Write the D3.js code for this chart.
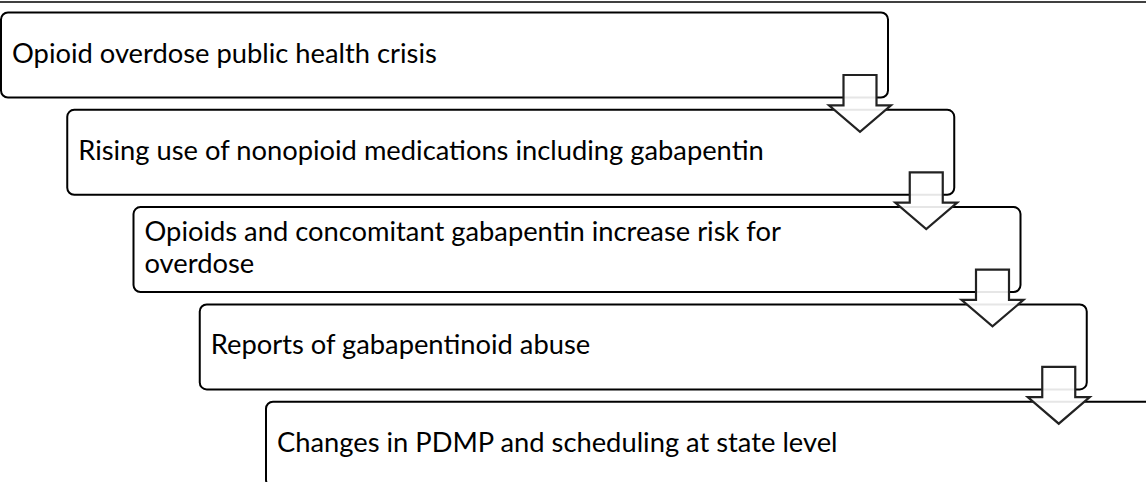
<!DOCTYPE html>
<html>
<head>
<meta charset="utf-8">
<script src="https://cdn.jsdelivr.net/npm/d3@7"></script>
<style>
  body { margin: 0; background: #fff; }
  svg { display: block; }
</style>
</head>
<body>
<svg id="chart"></svg>
<script>
// steps of the flow, top to bottom (lines split as in the figure)
var steps = [
  ["Opioid overdose public health crisis"],
  ["Rising use of nonopioid medications including gabapentin"],
  ["Opioids and concomitant gabapentin increase risk for", "overdose"],
  ["Reports of gabapentinoid abuse"],
  ["Changes in PDMP and scheduling at state level"]
];
var stepIndex = d3.range(steps.length);

var screen = {width: 1146, height: 482};
var boxW = 887, boxH = 85;

var svg = d3.select("#chart")
  .attr("width", screen.width)
  .attr("height", screen.height);

var xScale = d3.scaleLinear().domain([0, steps.length - 1]).range([1, 266]);
var yScale = d3.scaleLinear().domain([0, steps.length - 1]).range([12.5, 401.7]);

// rule along the top
svg.append("line")
  .attr("x1", 0).attr("x2", screen.width)
  .attr("y1", 2).attr("y2", 2)
  .attr("stroke", "#000").attr("stroke-width", 1.5);

// boxes
svg.selectAll("rect.step")
  .data(stepIndex)
  .enter()
  .append("rect")
  .attr("class", "step")
  .attr("x", function(i) { return xScale(i); })
  .attr("y", function(i) { return yScale(i); })
  .attr("width", boxW)
  .attr("height", boxH)
  .attr("rx", 7).attr("ry", 7)
  .attr("fill", "#fff")
  .attr("stroke", "#000")
  .attr("stroke-width", 2);

// text, font size fitted so first line is ~425px wide
var fontFamily = "Lato, 'Open Sans', sans-serif";
var probe = svg.append("text")
  .attr("font-family", fontFamily)
  .attr("font-size", 100)
  .text(steps[0][0]);
var fontSize = 100 * 425 / probe.node().getComputedTextLength();
probe.remove();
var lineGap = 32;

var labels = svg.selectAll("text.step")
  .data(stepIndex)
  .enter()
  .append("text")
  .attr("class", "step")
  .attr("font-family", fontFamily)
  .attr("font-size", fontSize)
  .attr("fill", "#000");

labels.selectAll("tspan")
  .data(function(i) {
    return steps[i].map(function(s, j) { return {i: i, j: j, n: steps[i].length, s: s}; });
  })
  .enter()
  .append("tspan")
  .attr("x", function(d) { return xScale(d.i) + 11; })
  .attr("y", function(d) { return yScale(d.i) + 50 - (d.n - 1) * lineGap / 2 + d.j * lineGap; })
  .text(function(d) { return d.s; });

// block arrows between steps, drawn on top
var arrowPath = function(i) {
  var cx = xScale(i) + boxW - 28;
  var top = yScale(i) + boxH - 22.5;
  var nextTop = yScale(i + 1);
  var base = nextTop - 4.5;
  var tip = nextTop + 22;
  var sw = 16.5, hw = 31;
  return "M" + (cx - sw) + "," + top +
    "L" + (cx + sw) + "," + top +
    "L" + (cx + sw) + "," + base +
    "L" + (cx + hw) + "," + base +
    "L" + cx + "," + tip +
    "L" + (cx - hw) + "," + base +
    "L" + (cx - sw) + "," + base + "Z";
};

svg.selectAll("path.arrow")
  .data(stepIndex.slice(0, steps.length - 1))
  .enter()
  .append("path")
  .attr("class", "arrow")
  .attr("d", arrowPath)
  .attr("fill", "#fff")
  .attr("fill-opacity", 0.9)
  .attr("stroke", "#222")
  .attr("stroke-width", 2.2)
  .attr("stroke-linejoin", "miter");
</script>
</body>
</html>
